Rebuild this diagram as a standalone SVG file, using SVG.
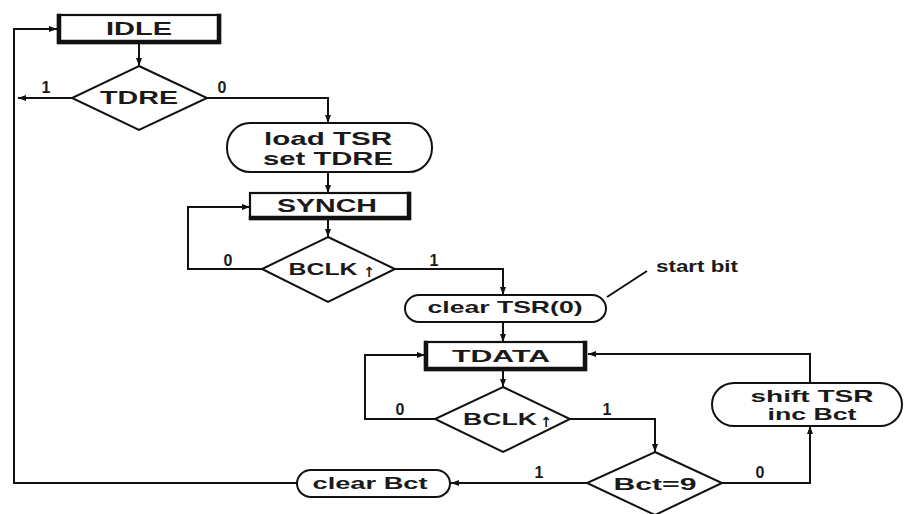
<svg xmlns="http://www.w3.org/2000/svg" width="905" height="514" viewBox="0 0 905 514">
  <style>
    .bg { fill: #ffffff; }
    .shape { fill: #ffffff; stroke: #111111; stroke-width: 2; }
    .state { fill: #ffffff; stroke: #111111; stroke-width: 2.2; }
    .heavy { fill: none; stroke: #111111; stroke-width: 4.5; stroke-linecap: square; }
    .wire { fill: none; stroke: #111111; stroke-width: 2; }
    .label { font-family: "Liberation Sans", Arial, sans-serif; font-weight: bold; fill: #1a1a1a; text-anchor: middle; }
    .edge { font-family: "Liberation Sans", Arial, sans-serif; font-weight: bold; fill: #1a1a1a; font-size: 16px; text-anchor: middle; }
    .sym { font-family: "DejaVu Sans", sans-serif; font-weight: bold; fill: #1a1a1a; font-size: 14px; text-anchor: middle; }
  </style>
  <defs>
    <marker id="arrow" viewBox="0 0 8 8" refX="8" refY="4" markerWidth="8" markerHeight="8" markerUnits="userSpaceOnUse" orient="auto">
      <path d="M0,1 L8,4 L0,7 Z" fill="#111111"/>
    </marker>
  </defs>

  <rect class="bg" x="0" y="0" width="905" height="514"/>

  <!-- connectors -->
  <g id="connectors">
    <path class="wire" d="M139,43 L139,66" marker-end="url(#arrow)"/>
    <path class="wire" d="M72,98 L18,98" marker-end="url(#arrow)"/>
    <path class="wire" d="M207,98 L328,98 L328,123" marker-end="url(#arrow)"/>
    <path class="wire" d="M328,172 L328,193" marker-end="url(#arrow)"/>
    <path class="wire" d="M328,219 L328,237" marker-end="url(#arrow)"/>
    <path class="wire" d="M262,269 L188,269 L188,207 L250,207" marker-end="url(#arrow)"/>
    <path class="wire" d="M395,269 L503,269 L503,295" marker-end="url(#arrow)"/>
    <path class="wire" d="M503,322 L503,342" marker-end="url(#arrow)"/>
    <path class="wire" d="M503,370 L503,387" marker-end="url(#arrow)"/>
    <path class="wire" d="M435,419 L365,419 L365,355 L425,355" marker-end="url(#arrow)"/>
    <path class="wire" d="M570,419 L655,419 L655,452" marker-end="url(#arrow)"/>
    <path class="wire" d="M587,483 L451,483" marker-end="url(#arrow)"/>
    <path class="wire" d="M297,483 L14,483 L14,29 L57,29" marker-end="url(#arrow)"/>
    <path class="wire" d="M722,483 L810,483 L810,426" marker-end="url(#arrow)"/>
    <path class="wire" d="M810,383 L810,354 L588,354" marker-end="url(#arrow)"/>
    <path class="wire" d="M607,297 L647,271"/>
  </g>

  <!-- branch labels -->
  <g id="branch-labels">
    <text class="edge" x="46" y="93">1</text>
    <text class="edge" x="222" y="93">0</text>
    <text class="edge" x="228" y="266">0</text>
    <text class="edge" x="434" y="266">1</text>
    <text class="edge" x="400" y="415">0</text>
    <text class="edge" x="607" y="415">1</text>
    <text class="edge" x="539" y="478">1</text>
    <text class="edge" x="760" y="478">0</text>
  </g>

  <g id="idle">
    <rect class="state" x="58" y="15" width="162" height="28"/>
    <path class="heavy" d="M59,16 L59,42 L219,42 L219,16"/>
    <text class="label" x="139" y="35" font-size="18" textLength="66" lengthAdjust="spacingAndGlyphs">IDLE</text>
  </g>

  <g id="tdre">
    <polygon class="shape" points="139,66 207,98 139,130 72,98"/>
    <text class="label" x="139" y="104" font-size="18" textLength="78" lengthAdjust="spacingAndGlyphs">TDRE</text>
  </g>

  <g id="load-tsr">
    <rect class="shape" x="227" y="123" width="205" height="49" rx="23" ry="24"/>
    <text class="label" x="328" y="145" font-size="19" textLength="128" lengthAdjust="spacingAndGlyphs">load TSR</text>
    <text class="label" x="328" y="165" font-size="19" textLength="130" lengthAdjust="spacingAndGlyphs">set TDRE</text>
  </g>

  <g id="synch">
    <rect class="state" x="250" y="193" width="160" height="26"/>
    <path class="heavy" d="M251,218 L409,218 L409,194"/>
    <text class="label" x="327" y="212" font-size="19" textLength="100" lengthAdjust="spacingAndGlyphs">SYNCH</text>
  </g>

  <g id="bclk-synch">
    <polygon class="shape" points="328,237 395,269 328,302 262,269"/>
    <text class="label" x="323" y="275" font-size="17" textLength="69" lengthAdjust="spacingAndGlyphs">BCLK</text>
    <text class="sym" x="369" y="277">↑</text>
  </g>

  <g id="clear-tsr">
    <rect class="shape" x="405" y="295" width="201" height="27" rx="14" ry="13.5"/>
    <text class="label" x="505" y="313" font-size="17" textLength="155" lengthAdjust="spacingAndGlyphs">clear TSR(0)</text>
  </g>

  <g id="start-bit">
    <text class="label" x="697" y="272" font-size="17" textLength="82" lengthAdjust="spacingAndGlyphs">start bit</text>
  </g>

  <g id="tdata">
    <rect class="state" x="425" y="342" width="161" height="28"/>
    <path class="heavy" d="M426,343 L426,369 L585,369 L585,343"/>
    <text class="label" x="501" y="362" font-size="17" textLength="98" lengthAdjust="spacingAndGlyphs">TDATA</text>
  </g>

  <g id="bclk-tdata">
    <polygon class="shape" points="503,387 570,419 503,452 435,419"/>
    <text class="label" x="500" y="425" font-size="17" textLength="74" lengthAdjust="spacingAndGlyphs">BCLK</text>
    <text class="sym" x="546" y="427">↑</text>
  </g>

  <g id="bct-check">
    <polygon class="shape" points="655,452 722,483 655,515 587,483"/>
    <text class="label" x="655" y="490" font-size="17" textLength="83" lengthAdjust="spacingAndGlyphs">Bct=9</text>
  </g>

  <g id="clear-bct">
    <rect class="shape" x="297" y="470" width="153" height="27" rx="14" ry="13.5"/>
    <text class="label" x="370" y="489" font-size="17" textLength="115" lengthAdjust="spacingAndGlyphs">clear Bct</text>
  </g>

  <g id="shift-tsr">
    <rect class="shape" x="712" y="383" width="190" height="43" rx="22" ry="21.5"/>
    <text class="label" x="812" y="402" font-size="17" textLength="123" lengthAdjust="spacingAndGlyphs">shift TSR</text>
    <text class="label" x="812" y="420" font-size="17" textLength="89" lengthAdjust="spacingAndGlyphs">inc Bct</text>
  </g>
</svg>
